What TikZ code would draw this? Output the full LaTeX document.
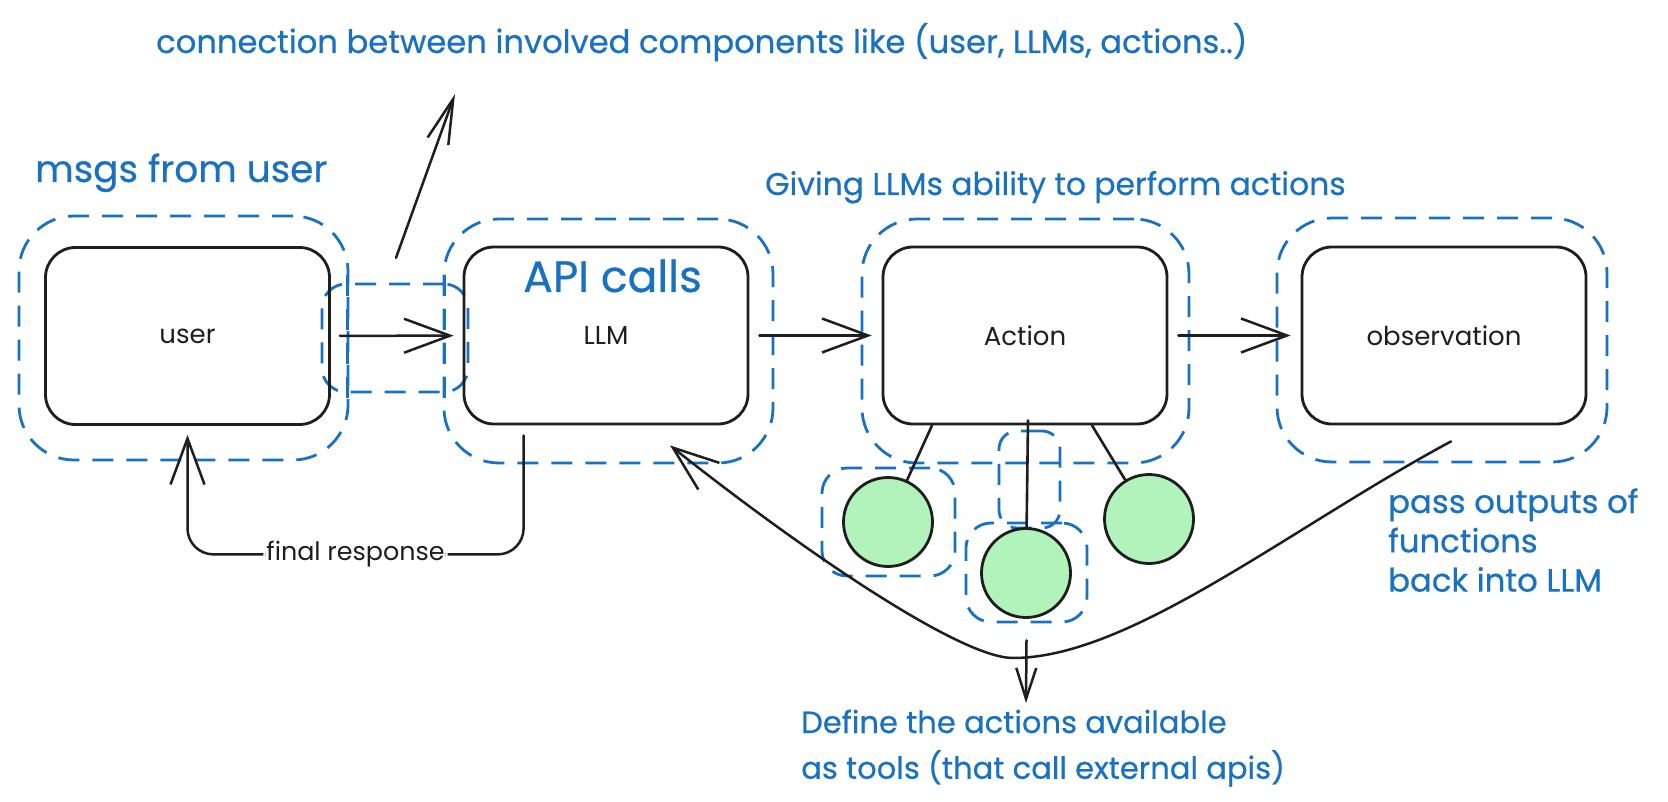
\documentclass[tikz,border=0pt]{standalone}
\usepackage{fontspec}
\setmainfont{Poppins}
\newfontfamily\notefont{Poppins}[FakeBold=0.5]
\usetikzlibrary{arrows.meta}
\definecolor{ink}{HTML}{1E1E1E}
\definecolor{note}{HTML}{1971C2}
\definecolor{leaf}{HTML}{B2F2BB}
\newcommand{\fsz}[1]{\fontsize{#1}{#1}\selectfont}
\tikzset{
  box/.style={draw=ink, line width=2.8pt, rounded corners=30pt, rectangle,
    minimum width=284pt, minimum height=177pt, inner sep=0pt,
    font=\fsz{26}, text=ink},
  zone/.style={draw=note, line width=2.8pt, dash pattern=on 21pt off 13pt,
    rounded corners=#1, rectangle, inner sep=0pt},
  zone/.default=55pt,
  leafnode/.style={circle, draw=ink, fill=leaf, line width=2.8pt,
    minimum size=89pt, inner sep=0pt},
  wire/.style={draw=ink, line width=2.6pt, line cap=round},
  arr/.style={draw=ink, line width=2.5pt, line cap=round,
    -{Straight Barb[length=#1, width=34pt, line width=2.5pt]}},
  arr/.default=46pt,
  remark/.style={text=note, inner sep=0pt, anchor=base west},
}
\begin{document}
\begin{tikzpicture}[x=1pt, y=-1pt]
  \fill[white] (0,0) rectangle (1668,802);
  \useasboundingbox (0,0) rectangle (1668,802);

  % dashed grouping frames
  \node[zone, minimum width=329pt, minimum height=244pt] (userzone) at (183.5,338) {};
  \node[zone, minimum width=329pt, minimum height=244pt] (llmzone)  at (608.5,341) {};
  \node[zone, minimum width=327pt, minimum height=244pt] (actzone)  at (1025.5,341) {};
  \node[zone, minimum width=330pt, minimum height=244pt] (obszone)  at (1442,340) {};

  % link frame between user and LLM
  \node[zone=24pt, minimum width=146pt, minimum height=108pt] (linkwide) at (395,338) {};
  \node[minimum width=96pt, minimum height=108pt, inner sep=0pt] (link) at (396,338) {};
  \draw[zone=0pt] ([yshift=9pt]link.north west) -- ([yshift=-9pt]link.south west);
  \draw[zone=0pt] ([yshift=9pt]link.north east) -- ([yshift=-9pt]link.south east);

  % main boxes
  \node[box] (user) at (187.5,336) {user};
  \node[box] (llm)  at (606,335.5) {LLM};
  \node[box] (act)  at (1025,335.5) {Action};
  \node[box] (obs)  at (1444,335.5) {observation};

  % tool frames
  \node[zone=25pt, minimum width=133pt, minimum height=108pt] (t1zone) at (888.5,522) {};
  \node[zone=25pt, minimum width=121pt, minimum height=99pt]  (t2zone) at (1026.5,572.5) {};
  \node[zone=18pt, minimum width=61pt,  minimum height=97pt]  (t2stem) at (1029.5,479.5) {};

  % tools
  \node[leafnode] (t1) at (888,522) {};
  \node[leafnode] (t2) at (1026,573) {};
  \node[leafnode] (t3) at (1149,519) {};

  \draw[wire] ([xshift=-93pt]act.south) -- (t1);
  \draw[wire] ([xshift=3pt,yshift=5pt]act.south) -- (t2);
  \draw[wire] ([xshift=67pt]act.south) -- (t3);

  % flow arrows
  \draw[arr, shorten <=9pt, shorten >=9pt] (user) -- (llm);
  \draw[arr, shorten <=10pt, shorten >=10pt] (llm) -- (act);
  \draw[arr, shorten <=10pt, shorten >=10pt] (act) -- (obs);

  % reply back to the user
  \draw[arr, rounded corners=26pt, shorten <=10pt, shorten >=9pt]
    ([xshift=61pt]llm.south west) -- ++(0,129)
    -| node[pos=0.25, fill=white, inner sep=3pt, text=ink, font=\fsz{25.4}] (reply) {final response}
    (user.south);

  % outputs fed back into the LLM
  \draw[arr] ([xshift=7pt,yshift=-16pt]obs.south)
    .. controls (1290,528) and (1130,658) .. (1013,658)
    .. controls (960,658) and (802,550) .. ([xshift=64pt,yshift=-20pt]llm.south);

  % annotation arrows
  \coordinate (conntip) at (455,94);
  \draw[draw=ink, line width=2.5pt, line cap=round,
        -{Straight Barb[length=45pt, width=22pt, line width=2.5pt]}]
    ([yshift=26pt]link.north) -- (conntip);
  \coordinate (deftip) at (1026,703);
  \draw[draw=ink, line width=2.5pt, line cap=round,
        -{Straight Barb[length=31pt, width=20pt, line width=2.5pt]}]
    ([yshift=-17pt]t2zone.south) -- (deftip);

  % annotations
  \node[remark, font=\notefont\fsz{32.2}] (conntext) at (156,53)
    {connection between involved components like (user, LLMs, actions..)};
  \node[remark, font=\notefont\fsz{37.4}] (msgs) at (35,182) {msgs from user};
  \node[remark, font=\notefont\fsz{44}] (api) at (523,292) {API calls};
  \node[remark, font=\notefont\fsz{31.4}] (giving) at (765,195) {Giving LLMs ability to perform actions};
  \node[remark, font=\notefont\fsz{32.3}] (pass) at (1388,513)
    {\begin{tabular}[t]{@{}l@{}}pass outputs of\\[5pt] functions\\[5pt] back into LLM\end{tabular}};
  \node[remark, font=\notefont\fsz{30.6}] (define) at (801,733)
    {\begin{tabular}[t]{@{}l@{}}Define the actions available\\[8pt] as tools (that call external apis)\end{tabular}};
\end{tikzpicture}
\end{document}
